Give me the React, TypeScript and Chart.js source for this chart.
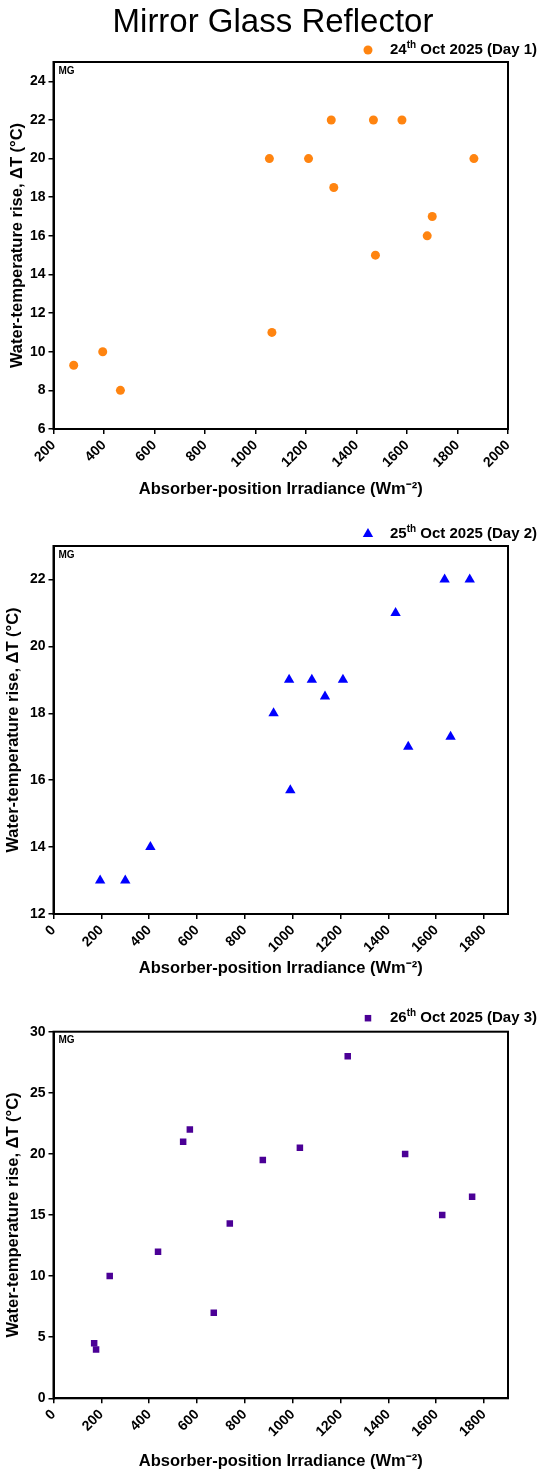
import React, { useEffect, useRef } from 'react';
import { Chart, registerables } from 'chart.js';
import type { Plugin, PointStyle } from 'chart.js';

Chart.register(...registerables);

const FONT = "'Liberation Sans', Arial, Helvetica, sans-serif";

// Day 1 - 24th Oct 2025
const day1Irradiance = [280, 395, 465, 1055, 1065, 1210, 1300, 1310, 1467, 1475, 1580, 1680, 1700, 1865];
const day1DeltaT = [9.3, 10, 8, 20, 11, 20, 22, 18.5, 22, 15, 22, 16, 17, 20];

// Day 2 - 25th Oct 2025
const day2Irradiance = [195, 300, 405, 920, 985, 990, 1080, 1135, 1210, 1430, 1483, 1635, 1660, 1740];
const day2DeltaT = [13, 13, 14, 18, 19, 15.7, 19, 18.5, 19, 21, 17, 22, 17.3, 22];

// Day 3 - 26th Oct 2025
const day3Irradiance = [170, 178, 235, 437, 542, 570, 670, 737, 875, 1030, 1230, 1470, 1625, 1750];
const day3DeltaT = [4.5, 4, 10, 12, 21, 22, 7, 14.3, 19.5, 20.5, 28, 20, 15, 16.5];

const X_TITLE = 'Absorber-position Irradiance (Wm\u207B\u00B2)';
const Y_TITLE = 'Water-temperature rise, \u0394T (\u00B0C)';

interface PanelProps {
  day: string;
  sup: string;
  rest: string;
  xs: number[];
  ys: number[];
  color: string;
  pointStyle: PointStyle;
  radius: number;
  xRange: [number, number];
  yRange: [number, number];
  yStep: number;
  height: number;
  padTop: number;
  xAxisHeight: number;
  xTitlePad: number;
  yTitlePad: number;
  legendGap: number;
  showTitle?: boolean;
}

function drawMarker(ctx: CanvasRenderingContext2D, style: PointStyle, x: number, y: number, r: number) {
  ctx.beginPath();
  if (style === 'triangle') {
    ctx.moveTo(x, y - r);
    ctx.lineTo(x + r * 0.866, y + r * 0.5);
    ctx.lineTo(x - r * 0.866, y + r * 0.5);
    ctx.closePath();
  } else if (style === 'rect') {
    const s = r * Math.SQRT1_2;
    ctx.rect(x - s, y - s, 2 * s, 2 * s);
  } else {
    ctx.arc(x, y, r, 0, Math.PI * 2);
  }
  ctx.fill();
}

const ScatterPanel: React.FC<PanelProps> = (p) => {
  const canvasRef = useRef<HTMLCanvasElement>(null);

  useEffect(() => {
    if (!canvasRef.current) return;

    const decorations: Plugin<'scatter'> = {
      id: 'decorations',
      afterDraw(chart) {
        const { ctx, chartArea: a } = chart;
        ctx.save();
        // closed frame round the plot
        ctx.strokeStyle = '#000';
        ctx.lineWidth = 2;
        ctx.strokeRect(a.left, a.top, a.right - a.left, a.bottom - a.top);

        ctx.fillStyle = '#000';
        ctx.font = `bold 10px ${FONT}`;
        ctx.textAlign = 'left';
        ctx.textBaseline = 'middle';
        ctx.fillText('MG', a.left + 5, a.top + 9);

        // legend with superscript ordinal
        const ly = a.top - p.legendGap;
        const big = `bold 15px ${FONT}`;
        const small = `bold 10px ${FONT}`;
        ctx.font = big;
        const w1 = ctx.measureText(p.day).width;
        const w3 = ctx.measureText(p.rest).width;
        ctx.font = small;
        const w2 = ctx.measureText(p.sup).width;
        const right = 537;
        const left = right - (w1 + w2 + w3);
        ctx.font = big;
        ctx.fillText(p.day, left, ly);
        ctx.font = small;
        ctx.fillText(p.sup, left + w1, ly - 5);
        ctx.font = big;
        ctx.fillText(p.rest, left + w1 + w2, ly);
        ctx.fillStyle = p.color;
        drawMarker(ctx, p.pointStyle, left - 22, ly, p.radius);

        if (p.showTitle) {
          ctx.fillStyle = '#000';
          ctx.font = `33px ${FONT}`;
          ctx.textAlign = 'center';
          ctx.textBaseline = 'alphabetic';
          ctx.fillText('Mirror Glass Reflector', 273, 32);
        }
        ctx.restore();
      },
    };

    const chart = new Chart(canvasRef.current, {
      type: 'scatter',
      data: {
        datasets: [
          {
            label: p.day + p.sup + p.rest,
            data: p.xs.map((x, i) => ({ x, y: p.ys[i] })),
            backgroundColor: p.color,
            borderColor: p.color,
            pointStyle: p.pointStyle,
            pointRadius: p.radius,
            pointBorderWidth: 0,
          },
        ],
      },
      options: {
        animation: false,
        responsive: true,
        maintainAspectRatio: false,
        events: [],
        layout: { padding: { top: p.padTop, right: 42, bottom: 0, left: 0 } },
        plugins: {
          legend: { display: false },
          tooltip: { enabled: false },
        },
        scales: {
          x: {
            type: 'linear',
            min: p.xRange[0],
            max: p.xRange[1],
            afterFit: (s) => {
              s.height = p.xAxisHeight;
            },
            border: { color: '#000', width: 2 },
            grid: { drawOnChartArea: false, drawTicks: true, tickLength: 5, color: '#000', lineWidth: 1.5 },
            ticks: {
              stepSize: 200,
              includeBounds: false,
              autoSkip: false,
              minRotation: 45,
              maxRotation: 45,
              color: '#000',
              font: { family: FONT, size: 14, weight: 'bold' },
              callback: (v) => String(v),
            },
            title: {
              display: true,
              text: X_TITLE,
              color: '#000',
              font: { family: FONT, size: 16.5, weight: 'bold' },
              padding: { top: 0, bottom: p.xTitlePad },
            },
          },
          y: {
            type: 'linear',
            min: p.yRange[0],
            max: p.yRange[1],
            afterFit: (s) => {
              s.width = 53.5;
            },
            border: { color: '#000', width: 2 },
            grid: { drawOnChartArea: false, drawTicks: true, tickLength: 5, color: '#000', lineWidth: 1.5 },
            ticks: {
              stepSize: p.yStep,
              includeBounds: false,
              color: '#000',
              font: { family: FONT, size: 14, weight: 'bold' },
              callback: (v) => String(v),
            },
            title: {
              display: true,
              text: Y_TITLE,
              color: '#000',
              font: { family: FONT, size: 16.5, weight: 'bold' },
              padding: { top: p.yTitlePad, bottom: 0 },
            },
          },
        },
      },
      plugins: [decorations],
    });

    return () => {
      chart.destroy();
    };
  }, [p]);

  return (
    <div style={{ position: 'relative', width: 550, height: p.height }}>
      <canvas ref={canvasRef} />
    </div>
  );
};

const panels: PanelProps[] = [
  {
    day: '24', sup: 'th', rest: ' Oct 2025 (Day 1)',
    xs: day1Irradiance, ys: day1DeltaT, color: '#ff8410', pointStyle: 'circle', radius: 4.5,
    xRange: [200, 2000], yRange: [6, 25], yStep: 2,
    height: 505, padTop: 62, xAxisHeight: 76, xTitlePad: 6, yTitlePad: 8, legendGap: 12, showTitle: true,
  },
  {
    day: '25', sup: 'th', rest: ' Oct 2025 (Day 2)',
    xs: day2Irradiance, ys: day2DeltaT, color: '#0000ff', pointStyle: 'triangle', radius: 6,
    xRange: [0, 1900], yRange: [12, 23], yStep: 2,
    height: 485, padTop: 41, xAxisHeight: 76, xTitlePad: 12, yTitlePad: 4, legendGap: 12,
  },
  {
    day: '26', sup: 'th', rest: ' Oct 2025 (Day 3)',
    xs: day3Irradiance, ys: day3DeltaT, color: '#4b0096', pointStyle: 'rect', radius: 4.6,
    xRange: [0, 1900], yRange: [0, 30], yStep: 5,
    height: 487, padTop: 41.7, xAxisHeight: 78.7, xTitlePad: 6, yTitlePad: 4, legendGap: 13.5,
  },
];

export default function App() {
  return (
    <div style={{ position: 'absolute', left: 0, top: 0, width: 550, background: '#fff' }}>
      {panels.map((panel) => (
        <ScatterPanel key={panel.day} {...panel} />
      ))}
    </div>
  );
}
